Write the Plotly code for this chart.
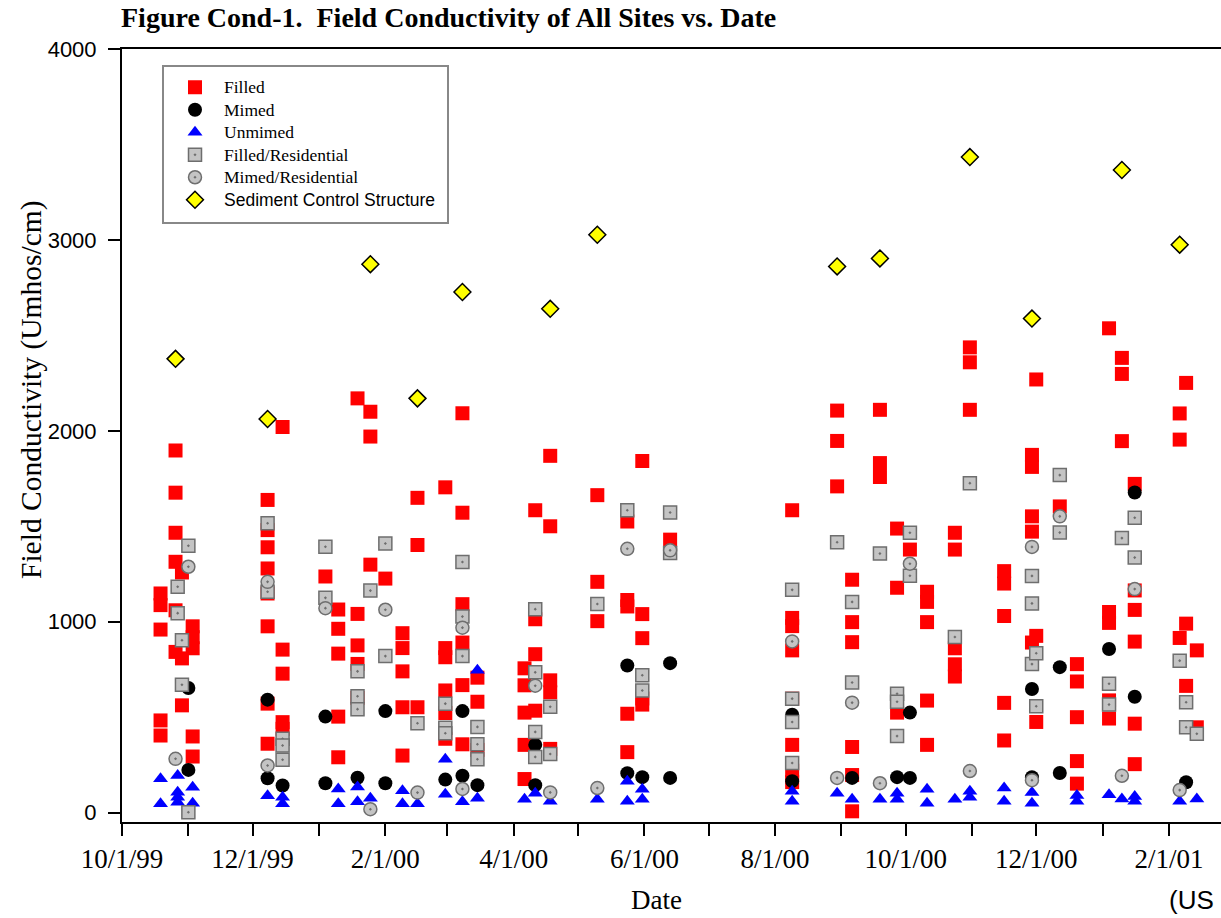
import plotly.graph_objects as go

# ---------------- data (date, [values]) ----------------
filled = [
    ("1999-10-19", [1148, 1087, 959, 483, 404]),
    ("1999-10-26", [1897, 1676, 1466, 1314, 1060, 842]),
    ("1999-10-29", [1258, 808, 562]),
    ("1999-11-03", [976, 919, 861, 399, 294]),
    ("1999-12-08", [1638, 1480, 1390, 1279, 1148, 976, 571, 361]),
    ("1999-12-15", [2020, 854, 728, 474, 439]),
    ("2000-01-04", [1237]),
    ("2000-01-10", [1064, 963, 833, 503, 290]),
    ("2000-01-19", [2170, 1041, 876, 779, 601]),
    ("2000-01-25", [2100, 1970, 1299]),
    ("2000-02-01", [1226]),
    ("2000-02-09", [940, 862, 740, 552, 299]),
    ("2000-02-16", [1649, 1402, 552]),
    ("2000-02-29", [1704, 862, 814, 640, 522, 387]),
    ("2000-03-08", [2092, 1571, 1092, 891, 668, 358]),
    ("2000-03-15", [707, 581, 329]),
    ("2000-04-06", [756, 667, 524, 355, 176]),
    ("2000-04-11", [1584, 1013, 830, 534]),
    ("2000-04-18", [1869, 1500, 693, 630, 334]),
    ("2000-05-10", [1663, 1209, 1003]),
    ("2000-05-24", [1525, 1114, 1080, 518, 317]),
    ("2000-05-31", [1842, 1040, 914, 598, 566]),
    ("2000-06-13", [1430]),
    ("2000-08-09", [1584, 1020, 977, 850, 597, 355, 220, 160]),
    ("2000-08-30", [2106, 1947, 1709]),
    ("2000-09-06", [1220, 998, 893, 344, 197, 7]),
    ("2000-09-19", [2110, 1831, 1758]),
    ("2000-09-27", [1488, 1178, 524]),
    ("2000-10-03", [1378]),
    ("2000-10-11", [1157, 1104, 998, 587, 355]),
    ("2000-10-24", [1466, 1378, 861, 777, 713]),
    ("2000-10-31", [2437, 2359, 2110]),
    ("2000-11-16", [1265, 1200, 1030, 575, 378]),
    ("2000-11-29", [1874, 1811, 1552, 1472, 891]),
    ("2000-12-01", [2269, 926, 475]),
    ("2000-12-12", [1604]),
    ("2000-12-20", [778, 687, 500, 270, 152]),
    ("2001-01-04", [2537, 1051, 994, 588, 493]),
    ("2001-01-10", [2382, 2298, 1946]),
    ("2001-01-16", [1722, 1164, 1062, 896, 466, 254]),
    ("2001-02-06", [2091, 1954, 915]),
    ("2001-02-09", [2251, 990, 664]),
    ("2001-02-14", [850, 447]),
]

mimed = [
    ("1999-11-01", [653, 224]),
    ("1999-12-08", [592, 180]),
    ("1999-12-15", [142]),
    ("2000-01-04", [503, 154]),
    ("2000-01-19", [183]),
    ("2000-02-01", [532, 154]),
    ("2000-02-29", [173]),
    ("2000-03-08", [532, 193]),
    ("2000-03-15", [144]),
    ("2000-04-11", [355, 144]),
    ("2000-05-24", [771, 207]),
    ("2000-05-31", [186]),
    ("2000-06-13", [783, 182]),
    ("2000-08-09", [513, 165]),
    ("2000-09-06", [182]),
    ("2000-09-27", [186]),
    ("2000-10-03", [524, 182]),
    ("2000-11-29", [648, 186]),
    ("2000-12-12", [762, 208]),
    ("2001-01-04", [857]),
    ("2001-01-16", [1677, 607]),
    ("2001-02-09", [159]),
]

unmimed = [
    ("1999-10-19", [177, 46]),
    ("1999-10-27", [194, 107, 80, 54]),
    ("1999-11-03", [133, 49]),
    ("1999-12-08", [89]),
    ("1999-12-15", [80, 47]),
    ("2000-01-10", [124, 47]),
    ("2000-01-19", [134, 57]),
    ("2000-01-25", [76]),
    ("2000-02-09", [115, 47]),
    ("2000-02-16", [47]),
    ("2000-02-29", [280, 96]),
    ("2000-03-08", [57]),
    ("2000-03-15", [746, 76]),
    ("2000-04-06", [70]),
    ("2000-04-11", [102]),
    ("2000-04-18", [60]),
    ("2000-05-10", [70]),
    ("2000-05-24", [165, 60]),
    ("2000-05-31", [123, 70]),
    ("2000-08-09", [112, 60]),
    ("2000-08-30", [102]),
    ("2000-09-06", [70]),
    ("2000-09-19", [70]),
    ("2000-09-27", [102, 70]),
    ("2000-10-11", [123, 49]),
    ("2000-10-24", [70]),
    ("2000-10-31", [112, 80]),
    ("2000-11-16", [129, 60]),
    ("2000-11-29", [106, 49]),
    ("2000-12-20", [90, 60]),
    ("2001-01-04", [94]),
    ("2001-01-10", [72]),
    ("2001-01-16", [84, 60]),
    ("2001-02-06", [60]),
    ("2001-02-14", [72]),
]

filled_res = [
    ("1999-10-27", [1183, 1045]),
    ("1999-10-29", [903, 670]),
    ("1999-11-01", [1398, 2]),
    ("1999-12-08", [1516, 1157]),
    ("1999-12-15", [387, 352, 277]),
    ("2000-01-04", [1393, 1125]),
    ("2000-01-19", [740, 610, 542]),
    ("2000-01-25", [1163]),
    ("2000-02-01", [1410, 820]),
    ("2000-02-16", [468]),
    ("2000-02-29", [571, 445, 416]),
    ("2000-03-08", [1313, 1027, 820]),
    ("2000-03-15", [449, 358, 280]),
    ("2000-04-11", [1066, 735, 423, 292]),
    ("2000-04-18", [555, 307]),
    ("2000-05-10", [1093]),
    ("2000-05-24", [1584]),
    ("2000-05-31", [720, 640]),
    ("2000-06-13", [1572, 1360]),
    ("2000-08-09", [1167, 597, 475, 260]),
    ("2000-08-30", [1416]),
    ("2000-09-06", [1104, 682]),
    ("2000-09-19", [1357]),
    ("2000-09-27", [623, 581, 401]),
    ("2000-10-03", [1466, 1241]),
    ("2000-10-24", [920]),
    ("2000-10-31", [1726]),
    ("2000-11-29", [1240, 1096, 778]),
    ("2000-12-01", [835, 557]),
    ("2000-12-12", [1768, 1467]),
    ("2001-01-04", [675, 566]),
    ("2001-01-10", [1438]),
    ("2001-01-16", [1545, 1336]),
    ("2001-02-06", [796]),
    ("2001-02-09", [578, 447]),
    ("2001-02-14", [413]),
]

mimed_res = [
    ("1999-10-26", [282]),
    ("1999-11-01", [1288]),
    ("1999-12-08", [1209, 247]),
    ("2000-01-04", [1071]),
    ("2000-01-25", [18]),
    ("2000-02-01", [1063]),
    ("2000-02-16", [105]),
    ("2000-03-08", [969, 124]),
    ("2000-04-11", [665]),
    ("2000-04-18", [106]),
    ("2000-05-10", [129]),
    ("2000-05-24", [1382]),
    ("2000-06-13", [1374]),
    ("2000-08-09", [897]),
    ("2000-08-30", [182]),
    ("2000-09-06", [576]),
    ("2000-09-19", [154]),
    ("2000-10-03", [1304]),
    ("2000-10-31", [218]),
    ("2000-11-29", [1392, 170]),
    ("2000-12-12", [1552]),
    ("2001-01-10", [193]),
    ("2001-01-16", [1171]),
    ("2001-02-06", [118]),
]

sediment_dates = ["1999-10-26", "1999-12-08", "2000-01-25", "2000-02-16", "2000-03-08",
                  "2000-04-18", "2000-05-10", "2000-08-30", "2000-09-19", "2000-10-31",
                  "2000-11-29", "2001-01-10", "2001-02-06"]
sediment_values = [2377, 2062, 2873, 2170, 2727, 2639, 3027, 2861, 2903, 3434, 2588, 3366, 2975]

tick_dates = ["1999-10-01", "1999-11-01", "1999-12-01", "2000-01-01", "2000-02-01", "2000-03-01",
              "2000-04-01", "2000-05-01", "2000-06-01", "2000-07-01", "2000-08-01", "2000-09-01",
              "2000-10-01", "2000-11-01", "2000-12-01", "2001-01-01", "2001-02-01"]
tick_labels = ["10/1/99", "", "12/1/99", "", "2/1/00", "", "4/1/00", "", "6/1/00", "",
               "8/1/00", "", "10/1/00", "", "12/1/00", "", "2/1/01"]
y_ticks = [0, 1000, 2000, 3000, 4000]


def expand(groups):
    xs, ys = [], []
    for d, vals in groups:
        for v in vals:
            xs.append(d)
            ys.append(v)
    return xs, ys


SERIF = "Liberation Serif, Times New Roman, serif"
SANS = "Liberation Sans, Arial, sans-serif"


def legend_name(text, family=None):
    style = "font-size:17.5px"
    if family:
        style += ";font-family:" + family
    return "<span style='%s'>%s</span>" % (style, text)


fig = go.Figure()

specs = [
    ("Filled", filled, dict(symbol="square", size=14, color="#FF0000", line=dict(width=0))),
    ("Mimed", mimed, dict(symbol="circle", size=14, color="#000000", line=dict(width=0))),
    ("Unmimed", unmimed, dict(symbol="triangle-up", size=13, color="#0000FF", line=dict(width=0))),
    ("Filled/Residential", filled_res, dict(symbol="square-dot", size=13, color="#C4C4C4",
                                             line=dict(width=1.5, color="#6E6E6E"))),
    ("Mimed/Residential", mimed_res, dict(symbol="circle-dot", size=13, color="#C4C4C4",
                                           line=dict(width=1.5, color="#6E6E6E"))),
]
for name, groups, marker in specs:
    xs, ys = expand(groups)
    fig.add_trace(go.Scatter(x=xs, y=ys, mode="markers", name=legend_name(name), marker=marker))

fig.add_trace(go.Scatter(
    x=sediment_dates, y=sediment_values, mode="markers",
    name=legend_name("Sediment Control Structure", "Liberation Sans, Arial, sans-serif"),
    marker=dict(symbol="diamond", size=13, color="#FFFF00", line=dict(width=1.5, color="#000000"))))

PW = 1221 - 122
PH = 822 - 49


def px2paper_x(px):
    return (px - 122) / PW


def px2paper_y(py):
    return (822 - py) / PH


fig.update_layout(
    width=1221, height=918, autosize=False,
    margin=dict(l=122, r=0, t=49, b=96, pad=0),
    paper_bgcolor="white", plot_bgcolor="white",
    showlegend=True,
    legend=dict(
        x=px2paper_x(166), y=px2paper_y(71), xanchor="left", yanchor="top",
        bgcolor="rgba(0,0,0,0)", borderwidth=0,
        font=dict(family=SERIF, size=15, color="black"),
        tracegroupgap=0, itemwidth=48,
    ),
    xaxis=dict(
        type="date", range=["1999-10-01", "2001-02-25 07:00"],
        tickvals=tick_dates, ticktext=tick_labels,
        ticks="outside", ticklen=12, tickwidth=2, tickcolor="black",
        showline=True, linewidth=2, linecolor="black", mirror=True,
        showgrid=False, zeroline=False,
        tickfont=dict(family=SERIF, size=27, color="black"),
    ),
    yaxis=dict(
        range=[-49, 4000], tickvals=y_ticks,
        ticks="outside", ticklen=12, tickwidth=2, tickcolor="black",
        showline=True, linewidth=2, linecolor="black", mirror=False,
        showgrid=False, zeroline=False,
        tickfont=dict(family=SANS, size=22, color="black"),
        ticklabelstandoff=7,
    ),
    shapes=[dict(type="rect", xref="paper", yref="paper",
                 x0=px2paper_x(163), x1=px2paper_x(448),
                 y0=px2paper_y(223), y1=px2paper_y(66),
                 line=dict(color="#888888", width=2), fillcolor="white", layer="above")],
    annotations=[
        dict(text="<b>Figure Cond-1.&nbsp; Field Conductivity of All Sites vs. Date</b>",
             xref="paper", yref="paper", x=px2paper_x(119), y=px2paper_y(18),
             xanchor="left", yanchor="middle", showarrow=False,
             font=dict(family=SERIF, size=28, color="black")),
        dict(text="Field Conductivity (Umhos/cm)", textangle=-90,
             xref="paper", yref="paper", x=px2paper_x(31), y=px2paper_y(390),
             xanchor="center", yanchor="middle", showarrow=False,
             font=dict(family=SERIF, size=29.5, color="black")),
        dict(text="Date", xref="paper", yref="paper", x=px2paper_x(656), y=px2paper_y(900),
             xanchor="center", yanchor="middle", showarrow=False,
             font=dict(family=SERIF, size=27, color="black")),
        dict(text="(US", xref="paper", yref="paper", x=px2paper_x(1167), y=px2paper_y(917),
             xanchor="left", yanchor="bottom", showarrow=False,
             font=dict(family=SANS, size=26, color="black")),
    ],
)

fig.write_html("out.html")
